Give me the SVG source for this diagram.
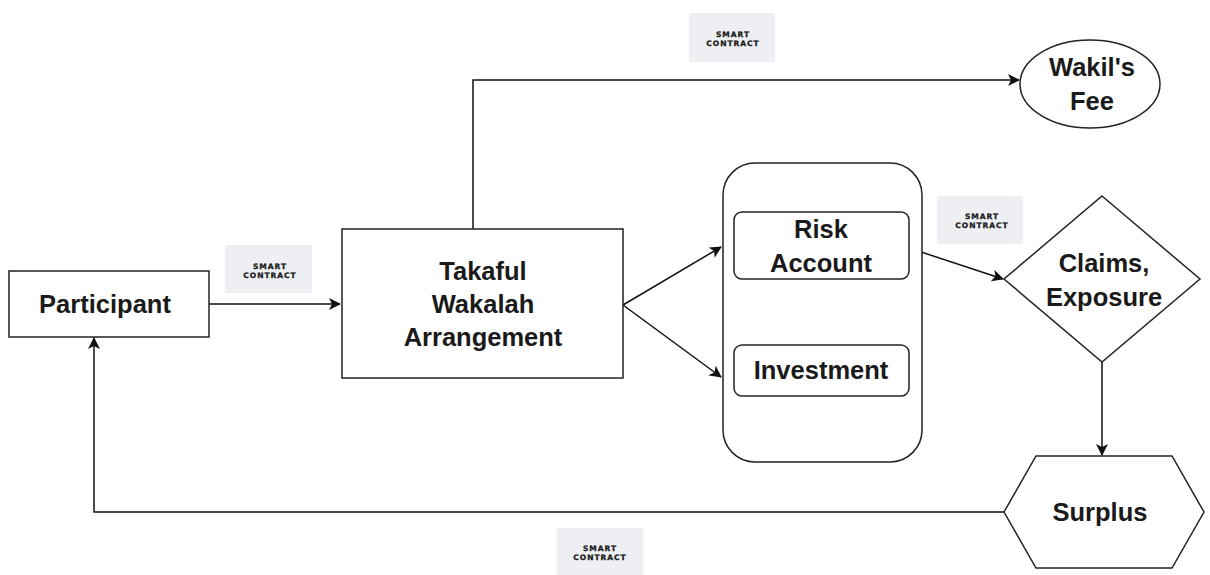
<svg xmlns="http://www.w3.org/2000/svg" width="1210" height="575" viewBox="0 0 1210 575">
<style>
.shape{fill:#fff;stroke:#222;stroke-width:1.5}
.lbl{font-family:"Liberation Sans",Arial,sans-serif;font-weight:bold;font-size:25.5px;fill:#1a1a1a;text-anchor:middle;dominant-baseline:central}
.edge{fill:none;stroke:#111;stroke-width:1.5}
.badge rect{fill:#edeff2}
.badge text{font-family:"DejaVu Sans",sans-serif;font-weight:bold;font-size:7.5px;fill:#1a1a1a;text-anchor:middle;letter-spacing:1px;stroke:#1a1a1a;stroke-width:0.3}
</style>
<defs>
<marker id="arr" viewBox="0 0 12 12" refX="11" refY="6" markerWidth="12" markerHeight="12" markerUnits="userSpaceOnUse" orient="auto">
<path d="M0,0 L12,6 L0,12 L3,6 Z" fill="#111"/>
</marker>
</defs>
<rect width="1210" height="575" fill="#fff"/>
<g id="badges">
<g class="badge" id="badge1"><rect x="689" y="13" width="86" height="49"/><text x="733" y="37">SMART</text><text x="733" y="46">CONTRACT</text></g>
<g class="badge" id="badge2"><rect x="225" y="245" width="87" height="48"/><text x="270" y="269">SMART</text><text x="270" y="278">CONTRACT</text></g>
<g class="badge" id="badge3"><rect x="937" y="196" width="86" height="48"/><text x="982" y="219">SMART</text><text x="982" y="228">CONTRACT</text></g>
<g class="badge" id="badge4"><rect x="557" y="528" width="86" height="47"/><text x="600" y="551">SMART</text><text x="600" y="560">CONTRACT</text></g>
</g>
<g id="connectors">
<path class="edge" d="M209,304 L340,304" marker-end="url(#arr)"/>
<path class="edge" d="M473,229 L473,80 L1019,80" marker-end="url(#arr)"/>
<path class="edge" d="M623,305 L721,247" marker-end="url(#arr)"/>
<path class="edge" d="M623,305 L721,377" marker-end="url(#arr)"/>
<path class="edge" d="M909,248 L1003,279" marker-end="url(#arr)"/>
<path class="edge" d="M1102,362 L1102,455" marker-end="url(#arr)"/>
<path class="edge" d="M1004,512 L94,512 L94,338" marker-end="url(#arr)"/>
</g>
<g id="participant"><rect class="shape" x="9" y="271" width="200" height="66"/><text class="lbl" x="105" y="304">Participant</text></g>
<g id="takaful"><rect class="shape" x="342" y="229" width="281" height="149"/><text class="lbl" x="483" y="271">Takaful</text><text class="lbl" x="483" y="304">Wakalah</text><text class="lbl" x="483" y="337">Arrangement</text></g>
<g id="fund"><rect class="shape" x="723" y="163" width="199" height="299" rx="32"/></g>
<g id="risk"><rect class="shape" x="734" y="212" width="175" height="67" rx="8"/><text class="lbl" x="821" y="229">Risk</text><text class="lbl" x="821" y="263">Account</text></g>
<g id="investment"><rect class="shape" x="734" y="345" width="175" height="51" rx="8"/><text class="lbl" x="821" y="370">Investment</text></g>
<g id="wakil"><ellipse class="shape" cx="1090" cy="84" rx="70" ry="44"/><text class="lbl" x="1092" y="67">Wakil's</text><text class="lbl" x="1092" y="101">Fee</text></g>
<g id="claims"><polygon class="shape" points="1102,196 1200,279 1102,362 1004,279"/><text class="lbl" x="1104" y="263">Claims,</text><text class="lbl" x="1104" y="297">Exposure</text></g>
<g id="surplus"><polygon class="shape" points="1004,512 1036,456 1172,456 1204,512 1172,568 1036,568"/><text class="lbl" x="1100" y="512">Surplus</text></g>
</svg>
